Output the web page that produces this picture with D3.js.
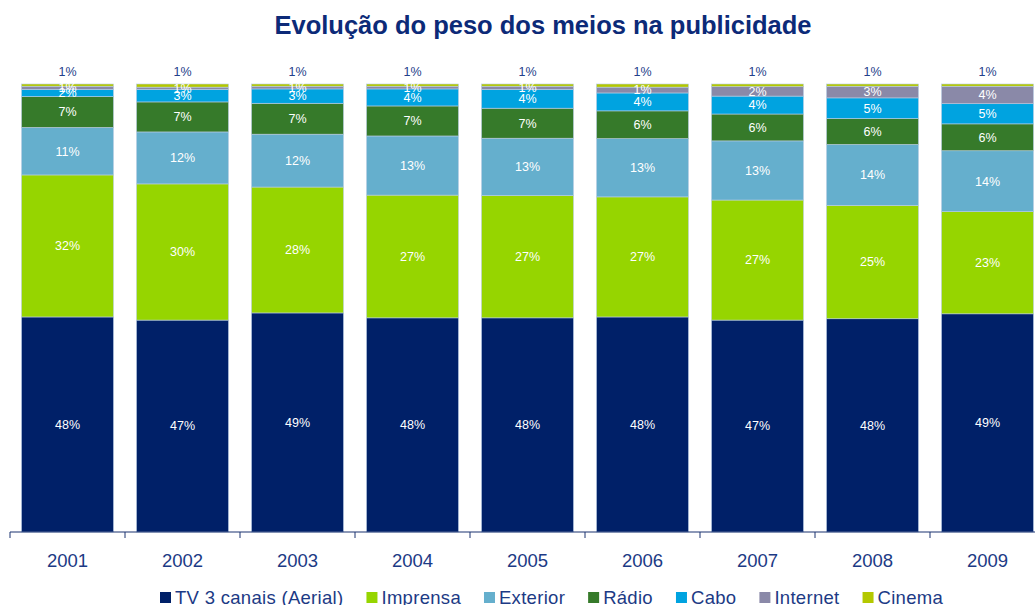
<!DOCTYPE html>
<html>
<head>
<meta charset="utf-8">
<script src="https://cdn.jsdelivr.net/npm/d3@7"></script>
<style>
  html, body { margin: 0; padding: 0; background: #ffffff; }
  svg { display: block; font-family: "Liberation Sans", Arial, sans-serif; }
</style>
</head>
<body>
<svg id="chart" width="1035" height="605"></svg>
<script>
const years = ["2001", "2002", "2003", "2004", "2005", "2006", "2007", "2008", "2009"];
const seriesNames = ["TV 3 canais (Aerial)", "Imprensa", "Exterior", "Rádio", "Cabo", "Internet", "Cinema"];
const tv       = [48.0, 47.3, 48.9, 47.8, 47.8, 48.0, 47.3, 47.6, 48.7];
const imprensa = [31.7, 30.4, 28.1, 27.4, 27.3, 26.8, 26.8, 25.3, 22.8];
const exterior = [10.6, 11.6, 11.8, 13.2, 12.8, 13.0, 13.2, 13.6, 13.6];
const radio    = [6.9, 6.7, 6.9, 6.7, 6.7, 6.2, 6.0, 5.8, 6.0];
const cabo     = [1.6, 2.8, 3.2, 3.8, 4.2, 4.0, 4.0, 4.6, 4.5];
const internet = [0.7, 0.5, 0.6, 0.6, 0.7, 1.3, 2.1, 2.6, 3.9];
const cinema   = [0.5, 0.7, 0.5, 0.5, 0.5, 0.7, 0.6, 0.5, 0.5];
const colors = ["#002068", "#96d500", "#65afcd", "#367a2a", "#00a3e0", "#8a89a8", "#b4c800"];

const seriesValues = [tv, imprensa, exterior, radio, cabo, internet, cinema];
const keys = seriesNames;
const table = years.map((yr, i) => {
  const row = { year: yr };
  keys.forEach((k, j) => row[k] = seriesValues[j][i]);
  return row;
});

const svg = d3.select("#chart");
const plotBottom = 532, plotTop = 84;

const x = d3.scaleBand().domain(years).range([10, 1045]).padding(0);
const barW = x.step() * 0.80;
const y = d3.scaleLinear().domain([0, 100]).range([plotBottom, plotTop]);

const stack = d3.stack().keys(keys)(table);

// title
svg.append("text")
  .attr("x", 543).attr("y", 34)
  .attr("text-anchor", "middle")
  .attr("font-size", "25.5px").attr("font-weight", "bold")
  .attr("fill", "#0c2a78")
  .text("Evolução do peso dos meios na publicidade");

const groups = svg.append("g").selectAll("g")
  .data(stack).join("g")
  .attr("fill", (d, i) => colors[i]);

groups.selectAll("rect")
  .data(d => d.map(p => ({ p, key: d.key })))
  .join("rect")
  .attr("x", d => x(d.p.data.year) + (x.step() - barW) / 2)
  .attr("width", barW)
  .attr("y", d => y(d.p[1]))
  .attr("height", d => y(d.p[0]) - y(d.p[1]))
  .attr("stroke", "#b9cde4")
  .attr("stroke-width", 0.6);

// labels
const labG = svg.append("g");
stack.forEach((s, si) => {
  s.forEach(p => {
    const v = p[1] - p[0];
    const cx = x(p.data.year) + x.step() / 2;
    const isTop = si === stack.length - 1;
    labG.append("text")
      .attr("x", cx)
      .attr("y", isTop ? y(p[1]) - 12 : (y(p[0]) + y(p[1])) / 2)
      .attr("dy", "0.35em")
      .attr("text-anchor", "middle")
      .attr("font-size", "12.5px")
      .attr("fill", isTop ? "#23408a" : "#ffffff")
      .text(Math.round(v) + "%");
  });
});

// axis
const axisG = svg.append("g").attr("transform", `translate(0,${plotBottom})`);
axisG.append("line").attr("x1", 10).attr("x2", 1035).attr("y1", 0).attr("y2", 0)
  .attr("stroke", "#1b3270").attr("stroke-width", 1.2);
axisG.selectAll("line.tick").data(years).join("line")
  .attr("class", "tick")
  .attr("x1", d => x(d)).attr("x2", d => x(d))
  .attr("y1", 0).attr("y2", 6)
  .attr("stroke", "#1b3270").attr("stroke-width", 1);
axisG.selectAll("text").data(years).join("text")
  .attr("x", d => x(d) + x.step() / 2)
  .attr("y", 35)
  .attr("text-anchor", "middle")
  .attr("font-size", "18.5px")
  .attr("fill", "#1c3a85")
  .text(d => d);

// legend
const leg = svg.append("g");
let lx = 160;
seriesNames.forEach((name, i) => {
  leg.append("rect").attr("x", lx).attr("y", 592).attr("width", 11).attr("height", 11)
    .attr("fill", colors[i]);
  const t = leg.append("text").attr("x", lx + 15).attr("y", 604)
    .attr("font-size", "18.5px").attr("fill", "#1c3a85")
    .attr("letter-spacing", "0.3px").text(name);
  lx += 15 + t.node().getComputedTextLength() + 23;
});
</script>
</body>
</html>
